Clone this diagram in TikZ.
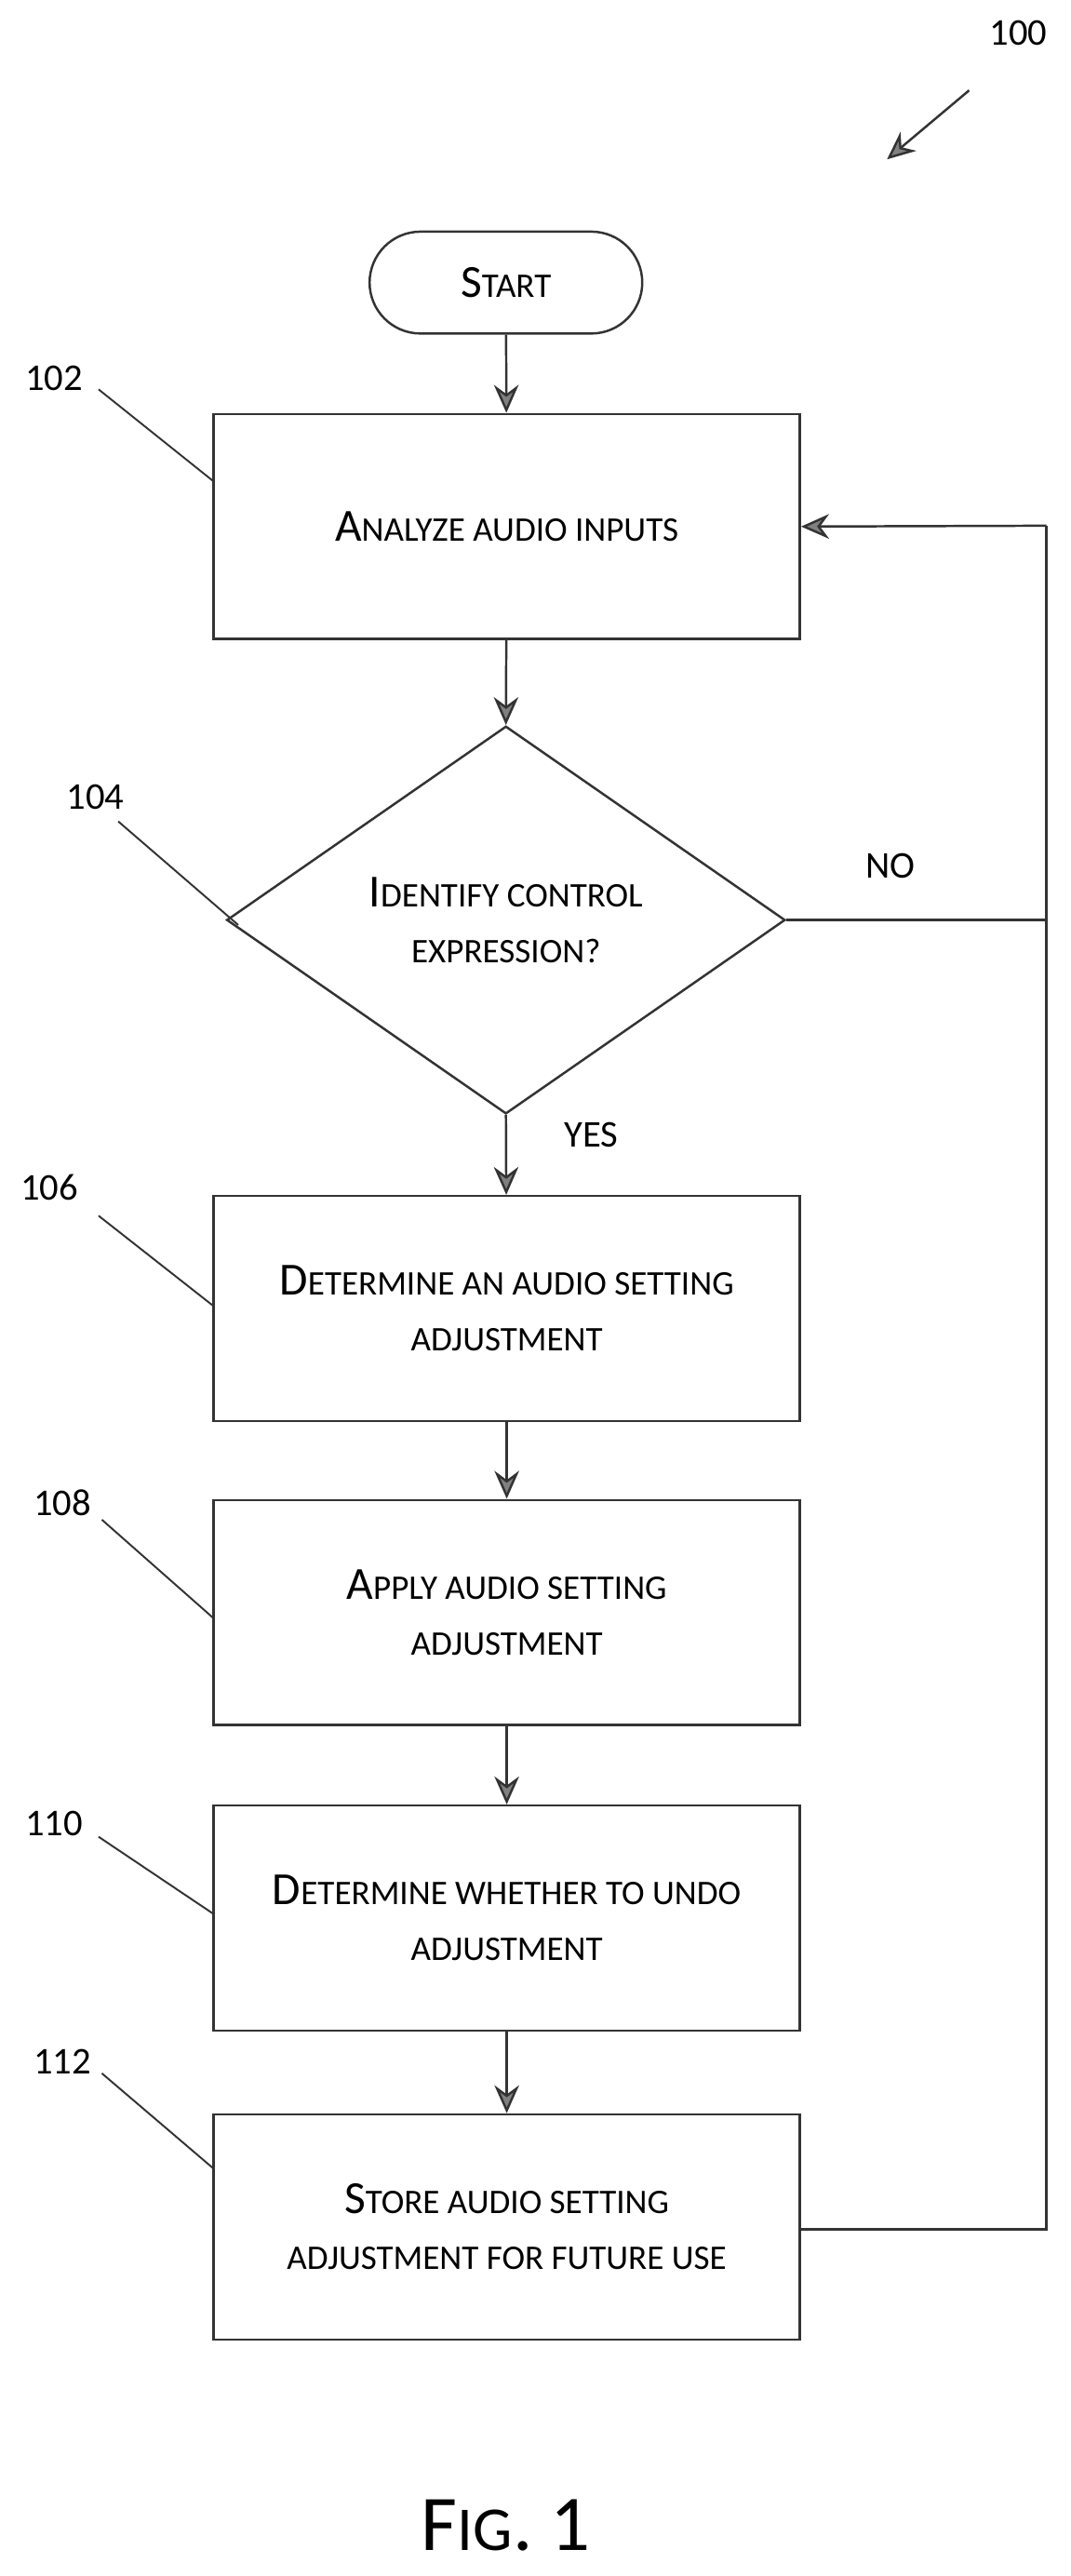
\documentclass[tikz,border=0pt]{standalone}
\usepackage{fontspec}
\setmainfont{Carlito}
\usetikzlibrary{shapes.geometric,arrows.meta}
\newcommand\Bg[1]{{\fontsize{28}{30}\selectfont #1}}
\begin{document}
\begin{tikzpicture}[x=1pt,y=-1pt,
  box/.style={draw=black!80,line width=1.4pt,minimum width=357pt,minimum height=137pt,align=center,font=\fontsize{21}{34}\selectfont},
  arr/.style={draw=black!80,line width=1.4pt,-{Stealth[length=17pt,width=15pt,fill=gray]}},
  lead/.style={draw=black!80,line width=1.1pt},
  lab/.style={font=\fontsize{23}{26}\selectfont}]
\useasboundingbox (0,0) rectangle (652,1568);
\node[lab] (n100) at (620,20) {100};
\coordinate (a100s) at (590,55);
\coordinate (a100e) at (540,97);
\draw[arr] (a100s) -- (a100e);
\node[draw=black!80,line width=1.4pt,rounded corners=31pt,minimum width=166pt,minimum height=62pt,font=\fontsize{21}{24}\selectfont] (start) at (308,172) {\Bg{S}TART};
\node[box] (b102) at (308.5,320.5) {\Bg{A}NALYZE AUDIO INPUTS};
\node[diamond,draw=black!80,line width=1.4pt,minimum width=340pt,minimum height=236pt,inner sep=0pt,align=center,font=\fontsize{21}{34}\selectfont] (d104) at (308,560) {\Bg{I}DENTIFY CONTROL\\EXPRESSION?};
\node[box] (b106) at (308.5,796.5) {\Bg{D}ETERMINE AN AUDIO SETTING\\ADJUSTMENT};
\node[box] (b108) at (308.5,981.5) {\Bg{A}PPLY AUDIO SETTING\\ADJUSTMENT};
\node[box] (b110) at (308.5,1167.5) {\Bg{D}ETERMINE WHETHER TO UNDO\\ADJUSTMENT};
\node[box] (b112) at (308.5,1355.5) {\Bg{S}TORE AUDIO SETTING\\ADJUSTMENT FOR FUTURE USE};
\draw[arr] (start) -- (b102);
\draw[arr] (b102) -- (d104.north);
\draw[arr] (d104.south) -- (b106);
\draw[arr] (b106) -- (b108);
\draw[arr] (b108) -- (b110);
\draw[arr] (b110) -- (b112);
\coordinate (r1) at (637,560);
\coordinate (r2) at (637,1357);
\coordinate (r0) at (637,320);
\draw[lead,line width=1.4pt] (d104.east) -- (r1);
\draw[lead,line width=1.4pt] (b112.east |- r2) -- (r2) -- (r0);
\draw[arr] (r0) -- (b102.east);
\node[lab] (no) at (542,527) {NO};
\node[lab] (yes) at (360,691) {YES};
\node[lab] (l102) at (33,230) {102};
\node[lab] (l104) at (58,485) {104};
\node[lab] (l106) at (30,723) {106};
\node[lab] (l108) at (38,915) {108};
\node[lab] (l110) at (33,1110) {110};
\node[lab] (l112) at (38,1255) {112};
\coordinate (p102) at (130,293);
\coordinate (p104) at (145,563);
\coordinate (p106) at (130,795);
\coordinate (p108) at (130,985);
\coordinate (p110) at (130,1165);
\coordinate (p112) at (130,1320);
\draw[lead] (60,237) -- (p102);
\draw[lead] (72,500) -- (p104);
\draw[lead] (60,740) -- (p106);
\draw[lead] (62,925) -- (p108);
\draw[lead] (60,1118) -- (p110);
\draw[lead] (62,1262) -- (p112);
\node (fig) at (308,1537) {\fontsize{48}{52}\selectfont F{\fontsize{38}{42}\selectfont IG}. 1};
\end{tikzpicture}
\end{document}
